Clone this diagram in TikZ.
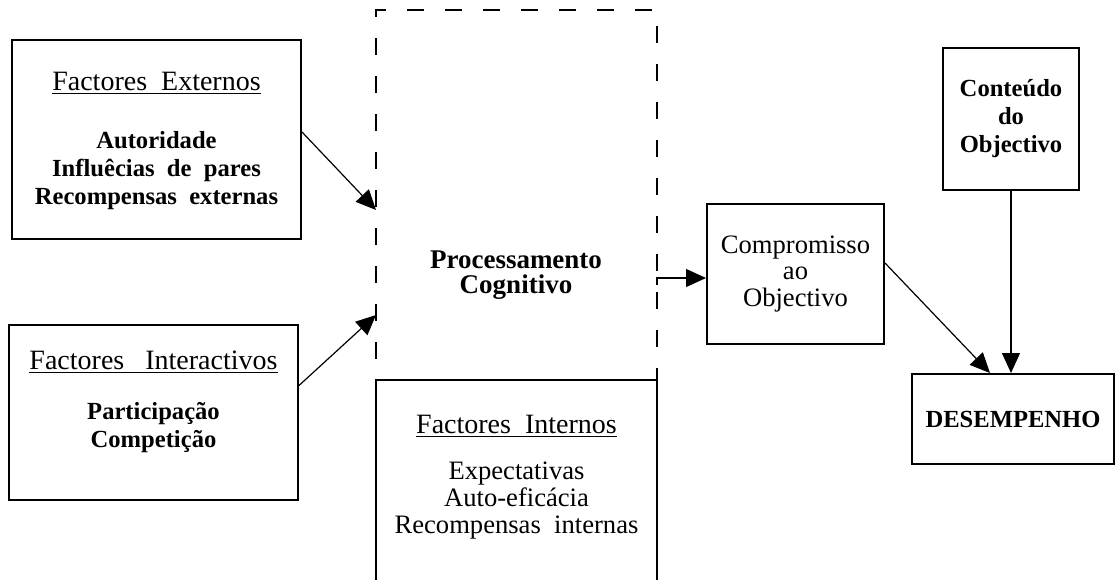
\documentclass[tikz,border=0pt]{standalone}
\usepackage{fontspec}
\setmainfont{Liberation Serif}
\usetikzlibrary{positioning}
\usetikzlibrary{arrows.meta}
\newcommand{\heading}[1]{{\mdseries\fontsize{14}{13.5}\selectfont\underline{#1}}}
\tikzset{
box/.style={draw, line width=1pt, align=center, inner sep=0pt},
dashbox/.style={draw, dash pattern=on 8.5pt off 10.5pt, dash phase=-5pt, line width=0.9pt, inner sep=0pt},
flow/.style={-{Triangle[length=10pt,width=9pt]}, line width=0.6pt},
bt/.style={font=\fontsize{12.3}{13.5}\selectfont\bfseries, align=center},
rt/.style={font=\fontsize{13.3}{13.25}\selectfont, align=center}
}

\begin{document}
\begin{tikzpicture}[x=0.5pt,y=-0.5pt]
\path[use as bounding box] (0,0) rectangle (1115,579);
\clip (0,0) rectangle (1115,579);

% left column
\node[box, minimum width=144.5pt, minimum height=99.5pt] (externos) at (156.5,139.5) {};
\node[bt] (extlabel) at (156.5,141) {\heading{Factores\ \ Externos}\\[15.5pt]
  Autoridade\\[0.5pt] Influêcias\ \ de\ \ pares\\[0.5pt] Recompensas\ \ externas};
\node[box, minimum width=144.5pt, minimum height=87.5pt] (interactivos) at (153.5,412.5) {};
\node[bt] (intlabel) at (153.5,402) {\heading{Factores\ \ \ Interactivos}\\[11.5pt]
  Participação\\[0.5pt] Competição};

% middle column
\node[dashbox, minimum width=140.5pt, minimum height=185pt] (proc) at (516.5,195) {};
\node[font=\fontsize{13.5}{12.5}\selectfont\bfseries, align=center] (proclabel) at (516,275) {Processamento\\ Cognitivo};
\node[box, fill=white, minimum width=140.5pt, minimum height=120pt] (internos) at (516.5,500) {};
\node[rt, font=\fontsize{13.3}{13.5}\selectfont] (inlabel) at (516.5,477) {\heading{Factores\ \ Internos}\\[9.5pt]
  Expectativas\\ Auto-eficácia\\ Recompensas\ \ internas};

% right part
\node[box, rt, minimum width=88.5pt, minimum height=70pt] (compromisso) at (795.5,274) {Compromisso\\ ao\\ Objectivo};
\node[box, bt, minimum width=68pt, minimum height=71pt] (conteudo) at (1011,119) {Conteúdo\\[0.5pt] do\\[0.5pt] Objectivo};
\node[box, bt, minimum width=101pt, minimum height=45pt] (desempenho) at (1013,419) {DESEMPENHO};

\coordinate (procin1) at (376,210);
\coordinate (procin2) at (376,315);
\coordinate (procout) at (657,285);

\draw[flow] ([yshift=3.75pt]externos.east) -- (procin1);
\draw[flow] ([yshift=13.5pt]interactivos.east) -- (procin2);
\draw[flow] (procout) |- ([yshift=-2pt]compromisso.west);
\draw[flow] ([yshift=5.5pt]compromisso.east) -- ([xshift=-11.5pt]desempenho.north);
\draw[flow] (conteudo.south) -- (conteudo.south |- desempenho.north);
\end{tikzpicture}
\end{document}
